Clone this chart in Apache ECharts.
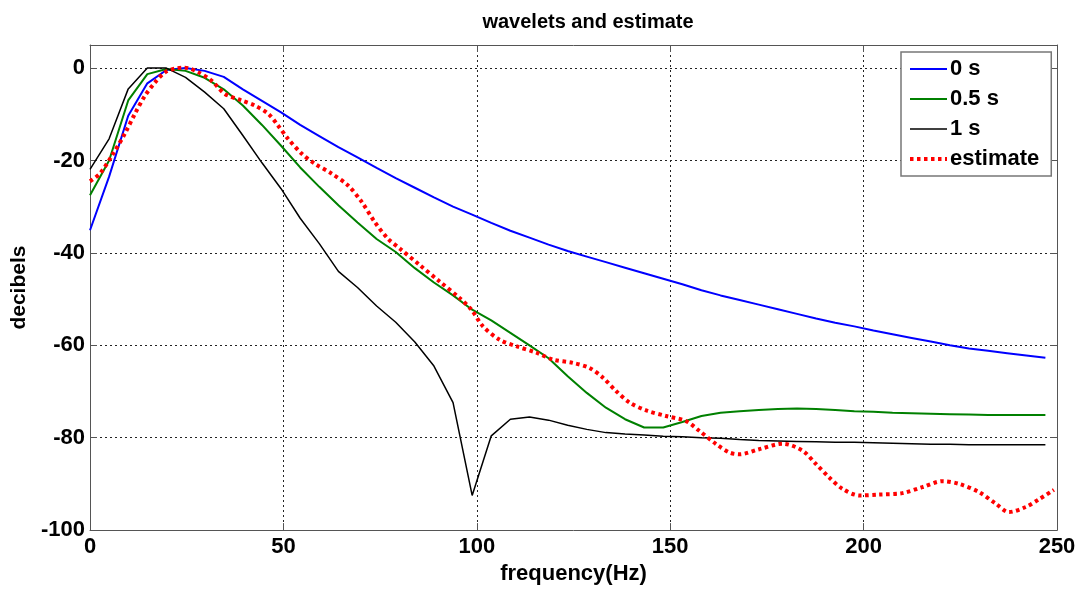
<!DOCTYPE html>
<html>
<head>
<meta charset="utf-8">
<script src="https://cdn.jsdelivr.net/npm/echarts@6/dist/echarts.min.js"></script>
<style>
  html, body { margin: 0; padding: 0; background: #fff; }
  #chart { width: 1080px; height: 590px; }
</style>
</head>
<body>
<div id="chart"></div>
<script>
// Frequency grid (Hz) shared by the three wavelet spectra
const freq = [0, 4.94, 9.88, 14.82, 19.76, 24.7, 29.64, 34.58, 39.52, 44.46, 49.4,
  54.34, 59.28, 64.22, 69.16, 74.1, 79.04, 83.98, 88.92, 93.86, 98.8,
  103.74, 108.68, 113.62, 118.56, 123.5, 128.44, 133.38, 138.32, 143.26, 148.2,
  153.14, 158.08, 163.02, 167.96, 172.9, 177.84, 182.78, 187.72, 192.66, 197.6,
  202.54, 207.48, 212.42, 217.36, 222.3, 227.24, 232.18, 237.12, 242.06, 247];

// Amplitude spectra in decibels
const wavelet0s = [-35.1, -23.5, -10.3, -3.3, -0.4, 0, -0.6, -1.9, -4.6, -7.1, -9.6,
  -12.3, -14.7, -17.1, -19.3, -21.6, -23.8, -25.9, -28.0, -30.0, -31.7,
  -33.5, -35.2, -36.7, -38.2, -39.6, -40.8, -42.0, -43.2, -44.4, -45.6,
  -46.8, -48.1, -49.2, -50.2, -51.2, -52.2, -53.2, -54.2, -55.1, -55.9,
  -56.8, -57.6, -58.4, -59.2, -60.0, -60.7, -61.2, -61.7, -62.2, -62.7];

const wavelet05s = [-27.5, -20.0, -7.0, -1.3, -0.2, -0.6, -2.1, -4.6, -8.1, -12.3, -16.8,
  -21.5, -25.7, -29.7, -33.4, -37.0, -39.8, -43.3, -46.4, -49.2, -52.3,
  -54.6, -57.3, -60.0, -62.8, -66.7, -70.3, -73.5, -76.0, -77.8, -77.8,
  -76.6, -75.3, -74.6, -74.3, -74.0, -73.8, -73.7, -73.8, -74.0, -74.3,
  -74.4, -74.6, -74.7, -74.8, -74.9, -75.0, -75.1, -75.1, -75.1, -75.1];

const wavelet1s = [-21.9, -15.3, -4.5, 0, 0, -2.0, -5.2, -8.8, -14.6, -20.5, -26.1,
  -32.5, -38.0, -44.0, -47.5, -51.5, -55.0, -59.3, -64.5, -72.4, -92.5,
  -79.6, -76.0, -75.5, -76.2, -77.3, -78.2, -78.9, -79.2, -79.4, -79.7,
  -79.8, -80.0, -80.1, -80.4, -80.6, -80.7, -80.8, -80.9, -81.0, -81.0,
  -81.1, -81.2, -81.3, -81.4, -81.4, -81.5, -81.5, -81.5, -81.5, -81.5];

// Estimated spectrum, on its own (denser) frequency grid
const estFreq = [0, 2.6, 6.0, 9.0, 11.6, 14.2, 16.8, 19.4, 22.0, 24.5, 28.0, 31.4, 34.9,
  39.2, 42.6, 46.1, 48.6, 51.2, 54.7, 58.1, 62.4, 66.7, 70.2, 73.6, 77.0, 80.3,
  85.2, 90.4, 95.6, 98.6, 101.6, 105.9, 110.2, 115.4, 119.7, 124.8, 129.1, 132.6,
  136.0, 139.5, 143.8, 148.9, 154.1, 157.5, 161.9, 165.3, 167.9, 173.0, 179.1,
  184.2, 187.7, 191.1, 194.6, 198.9, 204.0, 210.0, 215.2, 220.4, 224.7, 229.9,
  234.2, 237.6, 241.9, 245.4, 249.2];
const estimate = [-24.5, -22.8, -18.5, -14.2, -9.9, -6.0, -3.1, -0.9, -0.1, 0.1, -0.9, -2.7, -5.6,
  -7.0, -8.1, -9.9, -12.4, -15.3, -18.5, -20.7, -22.8, -25.4, -28.9, -33.3, -36.9, -39.2,
  -42.6, -46.2, -49.8, -52.3, -55.9, -58.8, -60.2, -61.6, -63.1, -63.8, -64.9, -67.0,
  -69.9, -72.4, -74.1, -75.3, -76.4, -78.5, -81.4, -83.2, -83.6, -82.5, -81.3,
  -82.8, -85.7, -88.6, -91.1, -92.5, -92.3, -92.0, -90.7, -89.4, -90.0, -91.8,
  -94.3, -96.1, -95.0, -93.3, -91.3];

const seriesNames = ['0 s', '0.5 s', '1 s', 'estimate'];

const FONT = "'Liberation Sans', Arial, sans-serif";
const pair = (xs, ys) => xs.map((x, i) => [x, ys[i]]);

// Line styles per curve, reused by the legend samples
const styles = {
  '0 s': { color: '#0000ff', width: 2 },
  '0.5 s': { color: '#008000', width: 2 },
  '1 s': { color: '#000000', width: 1.5 },
  'estimate': { color: '#ff0000', width: 4, type: [3.5, 3.5] }
};

const boxLine = { show: true, onZero: false, lineStyle: { color: '#555', width: 1 } };
const innerTick = { show: true, inside: true, length: 7, lineStyle: { color: '#555', width: 1 } };
const gridDots = { show: true, lineStyle: { color: '#222', width: 1, type: [2, 3] } };

const chart = echarts.init(document.getElementById('chart'), null, { renderer: 'canvas' });
chart.setOption({
  animation: false,
  backgroundColor: '#fff',
  textStyle: { fontFamily: FONT },
  title: {
    text: 'wavelets and estimate',
    left: 583, top: 7, textAlign: 'center',
    textStyle: { fontFamily: FONT, fontWeight: 'bold', fontSize: 20, color: '#000' }
  },
  grid: { left: 90, right: 23, top: 45, bottom: 57, containLabel: false },
  legend: {
    data: seriesNames.map(n => ({ name: n, lineStyle: styles[n] })),
    orient: 'vertical',
    left: 901, top: 52,
    padding: [6, 12, 6, 7],
    itemWidth: 37, itemHeight: 22, itemGap: 8,
    itemStyle: { opacity: 0 },
    backgroundColor: '#fff',
    borderColor: '#777', borderWidth: 1.5,
    textStyle: { fontFamily: FONT, fontWeight: 'bold', fontSize: 22, color: '#000', padding: [0, 0, 0, -2] }
  },
  xAxis: [{
    type: 'value', min: 0, max: 250, interval: 50,
    name: 'frequency(Hz)', nameLocation: 'middle', nameGap: 30,
    nameTextStyle: { fontFamily: FONT, fontWeight: 'bold', fontSize: 22, color: '#000' },
    axisLine: boxLine, axisTick: innerTick, splitLine: gridDots,
    axisLabel: { fontFamily: FONT, fontWeight: 'bold', fontSize: 22, color: '#000', margin: 6 }
  }, {
    type: 'value', min: 0, max: 250, interval: 50, position: 'top',
    axisLine: boxLine, axisTick: innerTick, splitLine: { show: false },
    axisLabel: { show: false }
  }],
  yAxis: [{
    type: 'value', min: -100, max: 5, interval: 20,
    name: 'decibels', nameLocation: 'middle', nameGap: 60,
    nameTextStyle: { fontFamily: FONT, fontWeight: 'bold', fontSize: 21, color: '#000' },
    axisLine: boxLine,
    axisTick: Object.assign({}, innerTick, { interval: (i, v) => Number(v) % 20 === 0 }),
    splitLine: { show: true, interval: (i, v) => Number(v) % 20 === 0 && Number(v) > -100,
      lineStyle: gridDots.lineStyle },
    axisLabel: {
      fontFamily: FONT, fontWeight: 'bold', fontSize: 22, color: '#000', margin: 5,
      formatter: v => (v % 20 === 0 ? String(v) : '')
    }
  }, {
    type: 'value', min: -100, max: 5, interval: 20, position: 'right',
    axisLine: boxLine, axisTick: innerTick, splitLine: { show: false },
    axisLabel: { show: false }
  }],
  series: [
    {
      name: '0 s', type: 'line', data: pair(freq, wavelet0s),
      showSymbol: false, symbol: 'none', color: styles['0 s'].color,
      lineStyle: styles['0 s']
    },
    {
      name: '0.5 s', type: 'line', data: pair(freq, wavelet05s),
      showSymbol: false, symbol: 'none', color: styles['0.5 s'].color,
      lineStyle: styles['0.5 s']
    },
    {
      name: '1 s', type: 'line', data: pair(freq, wavelet1s),
      showSymbol: false, symbol: 'none', color: styles['1 s'].color,
      lineStyle: styles['1 s']
    },
    {
      name: 'estimate', type: 'line', data: pair(estFreq, estimate),
      showSymbol: false, symbol: 'none', color: styles['estimate'].color, smooth: 0.3,
      lineStyle: styles['estimate']
    }
  ]
});
</script>
</body>
</html>
